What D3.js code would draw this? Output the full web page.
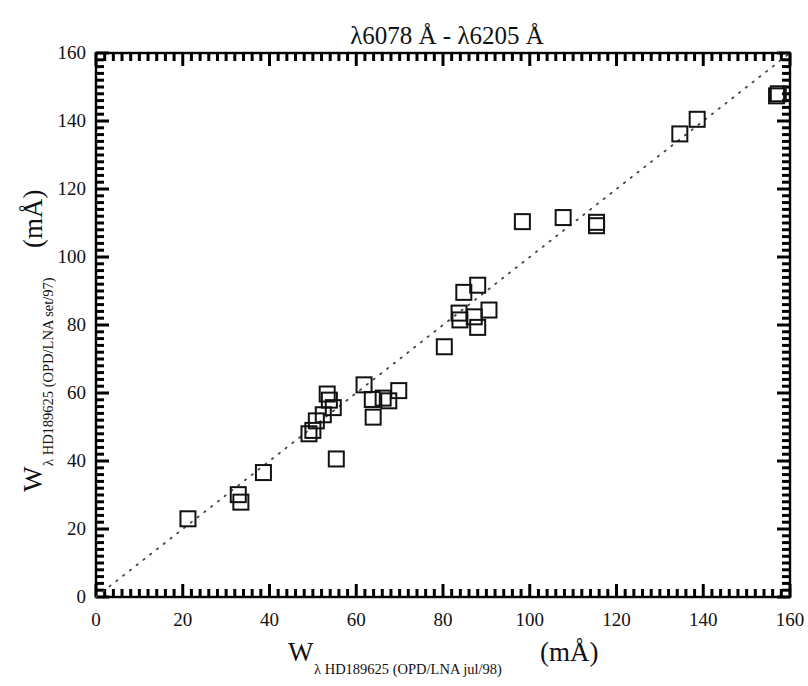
<!DOCTYPE html>
<html>
<head>
<meta charset="utf-8">
<script src="https://cdn.jsdelivr.net/npm/d3@7"></script>
<style>
  html, body { margin: 0; padding: 0; background: #fff; }
  svg { display: block; }
  text { font-family: "Liberation Serif", "DejaVu Serif", serif; fill: #111; }
</style>
</head>
<body>
<svg id="chart" width="808" height="686"></svg>
<script>
// ---- data ----
const xVals = [21.2, 32.8, 33.4, 38.6, 49.1, 50.0, 50.8, 52.4, 53.3, 53.8, 54.7, 55.4,
               61.8, 63.7, 63.9, 66.2, 67.5, 69.8, 80.3, 83.7, 83.9, 84.8, 87.2, 88.0,
               88.0, 90.6, 98.3, 107.7, 115.4, 115.4, 134.6, 138.6, 156.9, 157.3];
const yVals = [23.0, 30.1, 27.9, 36.6, 48.0, 49.0, 51.8, 53.6, 59.7, 57.9, 55.7, 40.6,
               62.4, 58.1, 52.9, 58.5, 57.7, 60.7, 73.6, 83.5, 81.5, 89.6, 82.4, 91.7,
               79.3, 84.4, 110.4, 111.6, 110.2, 109.2, 136.2, 140.5, 147.4, 148.0];
const tickValues = [0, 20, 40, 60, 80, 100, 120, 140, 160];
const minorTickValues = d3.range(0, 161, 2);
const identityLine = [0, 160];
const titleText = "λ6078 Å - λ6205 Å";
const xLabelMain = "W", xLabelSub = "λ HD189625 (OPD/LNA jul/98)", unitText = "(mÅ)";
const yLabelMain = "W", yLabelSub = "λ HD189625 (OPD/LNA set/97)";

const points = xVals.map((x, i) => ({ x, y: yVals[i] }));

// ---- layout ----
const svg = d3.select("#chart");
const L = 96, R = 790, T = 53, B = 597;
const x = d3.scaleLinear().domain([0, 160]).range([L, R]);
const y = d3.scaleLinear().domain([0, 160]).range([B, T]);

// inward ticks on all four sides, positioned by the scales
const allTicks = minorTickValues.map(v => ({ v, len: v % 20 === 0 ? 13 : 8 }));
const tg = svg.append("g");
function tickStyle(sel) { sel.attr("stroke", "black").attr("stroke-width", 3); }
tg.selectAll("line.b").data(allTicks).join("line").attr("class", "b")
  .attr("x1", d => x(d.v)).attr("x2", d => x(d.v)).attr("y1", B).attr("y2", d => B - d.len).call(tickStyle);
tg.selectAll("line.t").data(allTicks).join("line").attr("class", "t")
  .attr("x1", d => x(d.v)).attr("x2", d => x(d.v)).attr("y1", T).attr("y2", d => T + d.len).call(tickStyle);
tg.selectAll("line.l").data(allTicks).join("line").attr("class", "l")
  .attr("y1", d => y(d.v)).attr("y2", d => y(d.v)).attr("x1", L).attr("x2", d => L + d.len).call(tickStyle);
tg.selectAll("line.r").data(allTicks).join("line").attr("class", "r")
  .attr("y1", d => y(d.v)).attr("y2", d => y(d.v)).attr("x1", R).attr("x2", d => R - d.len).call(tickStyle);

// frame
svg.append("rect").attr("x", L).attr("y", T).attr("width", R - L).attr("height", B - T)
  .attr("fill", "none").attr("stroke", "black").attr("stroke-width", 2.4);

// identity dotted line
svg.append("line")
  .attr("x1", x(identityLine[0])).attr("y1", y(identityLine[0]))
  .attr("x2", x(identityLine[1])).attr("y2", y(identityLine[1]))
  .attr("stroke", "#444").attr("stroke-width", 1.8)
  .attr("stroke-dasharray", "1.4,7.2").attr("stroke-linecap", "round");

// squares
const S = 15;
svg.append("g").selectAll("rect").data(points).join("rect")
  .attr("x", d => x(d.x) - S / 2).attr("y", d => y(d.y) - S / 2)
  .attr("width", S).attr("height", S)
  .attr("fill", "none").attr("stroke", "#111").attr("stroke-width", 2);

// tick labels
svg.append("g").selectAll("text").data(tickValues).join("text")
  .attr("x", d => x(d)).attr("y", 626)
  .attr("text-anchor", "middle").attr("font-size", 19).text(d => d);
svg.append("g").selectAll("text").data(tickValues).join("text")
  .attr("x", 86).attr("y", d => y(d) + 6)
  .attr("text-anchor", "end").attr("font-size", 19).text(d => d);

// title
svg.append("text").attr("x", 447).attr("y", 44).attr("text-anchor", "middle")
  .attr("font-size", 25).text(titleText);

// x label
svg.append("text").attr("x", 288).attr("y", 661).attr("font-size", 27).text(xLabelMain);
svg.append("text").attr("x", 314).attr("y", 674).attr("font-size", 14.5).text(xLabelSub);
svg.append("text").attr("x", 540).attr("y", 661).attr("font-size", 27).text(unitText);

// y label (rotated)
svg.append("text").attr("transform", "translate(42,492) rotate(-90)").attr("font-size", 27).text(yLabelMain);
svg.append("text").attr("transform", "translate(53,466) rotate(-90)").attr("font-size", 14.5).text(yLabelSub);
svg.append("text").attr("transform", "translate(42,248) rotate(-90)").attr("font-size", 27).text(unitText);
</script>
</body>
</html>
